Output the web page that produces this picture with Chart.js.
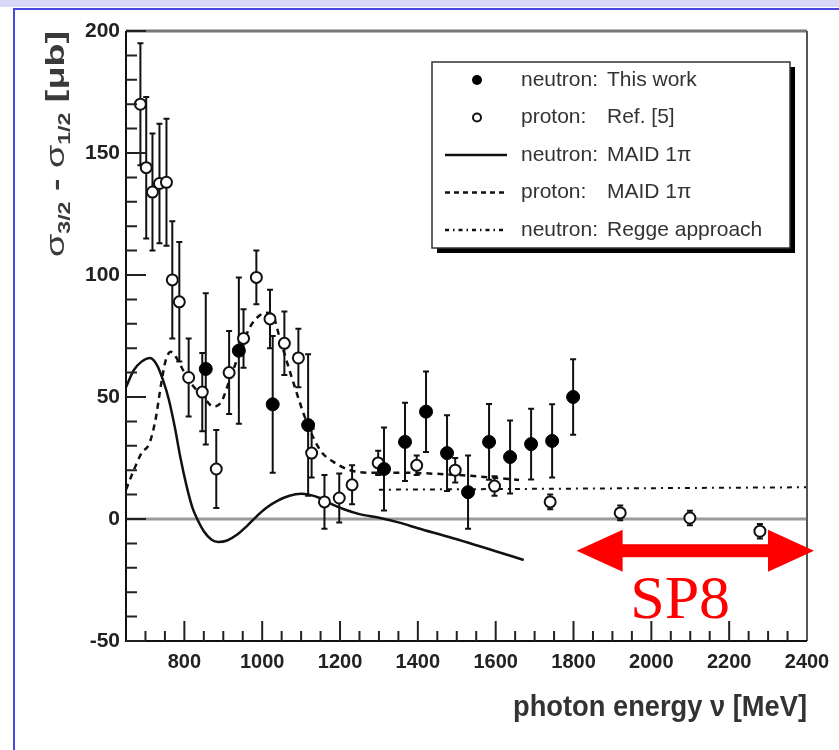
<!DOCTYPE html>
<html>
<head>
<meta charset="utf-8">
<script src="https://cdn.jsdelivr.net/npm/chart.js@4.4.1/dist/chart.umd.min.js"></script>
<style>
  html, body { margin: 0; padding: 0; background: #fff; }
  #wrap { position: relative; width: 839px; height: 750px; overflow: hidden; }
  #band { position: absolute; left: 0; top: 0; width: 839px; height: 7px; background: #d8d8f6; }
  #frame { position: absolute; left: 13px; top: 8px; width: 900px; height: 800px;
           border-left: 2px solid #4848e0; border-top: 2px solid #4848e0; }
  canvas { position: absolute; left: 0; top: 0; }
</style>
</head>
<body>
<div id="wrap">
  <div id="band"></div>
  <div id="frame"></div>
  <canvas id="chartOne" width="839" height="750"></canvas>
</div>
<script>
const xTicks = [800, 1000, 1200, 1400, 1600, 1800, 2000, 2200, 2400];
const yTicks = [-50, 0, 50, 100, 150, 200];

// neutron: this work (filled)
const neutronE   = [855, 940, 1027, 1118, 1313, 1367, 1421, 1475, 1529, 1583, 1637, 1691, 1745, 1799];
const neutronVal = [61.5, 69, 47, 38.5, 20.5, 31.6, 44, 27, 11, 31.6, 25.4, 30.7, 32, 50];
const neutronErr = [31, 30, 28, 29, 17, 16, 16.5, 15.5, 15, 15.5, 15, 14.5, 15, 15.5];

// proton: Ref. [5] (open)
const protonE   = [687, 702, 718, 736, 754, 769, 787, 811, 846, 882, 915, 952, 985, 1020, 1057, 1093, 1127, 1160, 1198, 1231, 1298, 1397, 1496, 1597, 1740, 1920, 2099, 2279];
const protonVal = [170, 144, 134, 137.5, 138, 98, 89, 58, 52, 20.5, 60, 74, 99, 82, 72, 66, 27, 7, 8.6, 14, 23, 22, 20, 13.5, 7, 2.5, 0.4, -5];
const protonErr = [25, 29, 24, 24.5, 26, 24, 24.5, 16, 16, 16, 17, 12, 11, 12, 13, 12, 10, 11, 10, 8, 5, 4, 5, 4, 3, 3, 3, 3];

// neutron: MAID 1pi (solid)
const maidNE  = [650, 670, 690, 712, 730, 745, 760, 775, 790, 805, 820, 833, 850, 870, 887, 910, 935, 960, 985, 1010, 1040, 1070, 1100, 1120, 1150, 1180, 1210, 1250, 1300, 1355, 1400, 1480, 1600, 1672];
const maidNVal = [54, 61, 64.5, 66, 63, 57, 49, 38, 25, 14, 5, 0, -5, -8.5, -9.4, -8.8, -6.5, -3, 1, 4.5, 7.5, 9.5, 10.3, 10, 8.5, 6, 4, 2, 0.5, -1.6, -3.8, -7.4, -13.2, -16.8];

// proton: MAID 1pi (dashed)
const maidPE  = [650, 670, 690, 710, 725, 740, 752, 765, 780, 800, 820, 849, 875, 895, 912, 930, 950, 970, 990, 1010, 1025, 1047, 1080, 1116, 1150, 1183, 1226, 1270, 1350, 1450, 1550, 1660];
const maidPVal = [12, 20, 27, 31, 40, 55, 65, 68.5, 66, 60, 55, 50, 46, 48, 55, 63, 72, 79, 83, 84.5, 84, 73, 56, 39, 28, 23.4, 20, 19, 19, 18.5, 17.5, 16];

// neutron: Regge approach (dash-dot)
const reggeE   = [1300, 2400];
const reggeVal = [12, 13];

const seriesTags  = ['neutron:', 'proton:', 'neutron:', 'proton:', 'neutron:'];
const seriesNotes = ['This work', 'Ref. [5]', 'MAID 1\u03c0', 'MAID 1\u03c0', 'Regge approach'];

const pts = (xs, ys) => xs.map((v, i) => ({ x: v, y: ys[i] }));
const sans = '"Liberation Sans", Arial, Helvetica, sans-serif';

// total natural width of a run of text pieces
function measureParts(ctx, parts) {
  let total = 0;
  parts.forEach(p => { ctx.font = p.f; p.w = ctx.measureText(p.t).width; total += p.w; });
  return total;
}

const decor = {
  id: 'decor',
  beforeDatasetsDraw(chart) {
    const { ctx, chartArea: a, scales: { x, y } } = chart;
    ctx.save();
    // zero line
    const y0 = y.getPixelForValue(0);
    ctx.strokeStyle = '#9a9a9a';
    ctx.lineWidth = 3;
    ctx.beginPath(); ctx.moveTo(a.left, y0); ctx.lineTo(a.right, y0); ctx.stroke();
    // error bars
    ctx.strokeStyle = '#111';
    ctx.lineWidth = 2;
    const bars = (es, vs, errs) => es.forEach((e, i) => {
      const px = x.getPixelForValue(e);
      const top = y.getPixelForValue(vs[i] + errs[i]);
      const bot = y.getPixelForValue(vs[i] - errs[i]);
      ctx.beginPath();
      ctx.moveTo(px, top); ctx.lineTo(px, bot);
      ctx.moveTo(px - 3, top); ctx.lineTo(px + 3, top);
      ctx.moveTo(px - 3, bot); ctx.lineTo(px + 3, bot);
      ctx.stroke();
    });
    bars(protonE, protonVal, protonErr);
    bars(neutronE, neutronVal, neutronErr);
    ctx.restore();
  },
  afterDraw(chart) {
    const { ctx, chartArea: a, scales: { x, y } } = chart;
    ctx.save();

    // frame
    ctx.lineWidth = 3; ctx.strokeStyle = '#777';
    ctx.beginPath(); ctx.moveTo(a.left, a.top); ctx.lineTo(a.right, a.top); ctx.stroke();
    ctx.lineWidth = 2; ctx.strokeStyle = '#555';
    ctx.beginPath(); ctx.moveTo(a.right, a.top); ctx.lineTo(a.right, a.bottom); ctx.stroke();
    ctx.strokeStyle = '#111';
    ctx.beginPath(); ctx.moveTo(a.left, a.top); ctx.lineTo(a.left, a.bottom); ctx.lineTo(a.right, a.bottom); ctx.stroke();

    // inner ticks
    ctx.lineWidth = 2; ctx.strokeStyle = '#222';
    ctx.beginPath();
    for (let v = -50; v <= 200; v += 10) {
      const py = y.getPixelForValue(v);
      const len = yTicks.includes(v) ? 20 : 11;
      ctx.moveTo(a.left, py); ctx.lineTo(a.left + len, py);
    }
    for (let v = 700; v < 2400; v += 50) {
      const px = x.getPixelForValue(v);
      const len = xTicks.includes(v) ? 20 : 10;
      ctx.moveTo(px, a.bottom); ctx.lineTo(px, a.bottom - len);
    }
    ctx.stroke();

    // y title with subscripts, stretched along its length
    const yParts = [
      { t: '\u03c3', f: '26px ' + sans, dy: 0 },
      { t: '3/2', f: 'bold 16px ' + sans, dy: 6 },
      { t: ' - ', f: 'bold 26px ' + sans, dy: 0 },
      { t: '\u03c3', f: '26px ' + sans, dy: 0 },
      { t: '1/2', f: 'bold 16px ' + sans, dy: 6 },
      { t: ' [\u03bcb]', f: 'bold 26px ' + sans, dy: 0 }
    ];
    const yTotal = measureParts(ctx, yParts);
    ctx.translate(64, 144);
    ctx.rotate(-Math.PI / 2);
    ctx.scale(226 / yTotal, 1);
    ctx.fillStyle = '#3a3a3a';
    ctx.textBaseline = 'alphabetic';
    let cx = -yTotal / 2;
    yParts.forEach(p => { ctx.font = p.f; ctx.fillText(p.t, cx, p.dy); cx += p.w; });
    ctx.setTransform(1, 0, 0, 1, 0, 0);

    // x title, right aligned to the axis end
    const xParts = [{ t: 'photon energy \u03bd [MeV]', f: 'bold 30px ' + sans }];
    const xTotal = measureParts(ctx, xParts);
    ctx.translate(a.right, 716);
    ctx.scale(294 / xTotal, 1);
    ctx.font = xParts[0].f;
    ctx.textAlign = 'right';
    ctx.fillStyle = '#333';
    ctx.fillText(xParts[0].t, 0, 0);
    ctx.setTransform(1, 0, 0, 1, 0, 0);
    ctx.textAlign = 'left';

    // legend
    const lx = 432, ly = 62, lw = 358, lh = 186;
    ctx.fillStyle = '#000';
    ctx.fillRect(lx + 5, ly + 5, lw, lh);
    ctx.fillStyle = '#fff';
    ctx.fillRect(lx, ly, lw, lh);
    ctx.strokeStyle = '#333'; ctx.lineWidth = 1.5;
    ctx.strokeRect(lx, ly, lw, lh);
    ctx.font = '21px ' + sans;
    ctx.textBaseline = 'middle';
    seriesTags.forEach((tag, i) => {
      const ry = ly + 18 + i * 37.5;
      ctx.fillStyle = '#333';
      ctx.fillText(tag, 521, ry);
      ctx.fillText(seriesNotes[i], 607, ry);
      ctx.strokeStyle = '#111';
      if (i === 0) {
        ctx.fillStyle = '#000';
        ctx.beginPath(); ctx.arc(477, ry, 5, 0, Math.PI * 2); ctx.fill();
      } else if (i === 1) {
        ctx.lineWidth = 2; ctx.fillStyle = '#fff';
        ctx.beginPath(); ctx.arc(477, ry, 4, 0, Math.PI * 2); ctx.fill(); ctx.stroke();
      } else {
        ctx.lineWidth = 2.5;
        ctx.setLineDash(i === 2 ? [] : i === 3 ? [5, 4] : [4, 4, 1.5, 4]);
        ctx.beginPath(); ctx.moveTo(445, ry); ctx.lineTo(507, ry); ctx.stroke();
        ctx.setLineDash([]);
      }
    });

    // SP8 arrow
    const ay = y.getPixelForValue(-13);
    const x1 = x.getPixelForValue(1808), x2 = x.getPixelForValue(2418);
    ctx.fillStyle = '#ff0000';
    ctx.fillRect(x1 + 40, ay - 6.5, x2 - x1 - 80, 13);
    ctx.beginPath(); ctx.moveTo(x1, ay); ctx.lineTo(x1 + 46, ay - 21); ctx.lineTo(x1 + 46, ay + 21); ctx.closePath(); ctx.fill();
    ctx.beginPath(); ctx.moveTo(x2, ay); ctx.lineTo(x2 - 46, ay - 21); ctx.lineTo(x2 - 46, ay + 21); ctx.closePath(); ctx.fill();
    ctx.font = '62px "Liberation Serif", "DejaVu Serif", serif';
    ctx.textAlign = 'center';
    ctx.textBaseline = 'alphabetic';
    ctx.fillText('SP8', x.getPixelForValue(2074), y.getPixelForValue(-40.6));
    ctx.restore();
  }
};

const chartOne = document.getElementById('chartOne');

new Chart(chartOne, {
  type: 'scatter',
  data: {
    datasets: [
      {
        label: seriesTags[0] + ' ' + seriesNotes[0],
        data: pts(neutronE, neutronVal),
        pointRadius: 6.5,
        backgroundColor: '#000',
        borderColor: '#000',
        borderWidth: 1,
        order: 0
      },
      {
        label: seriesTags[1] + ' ' + seriesNotes[1],
        data: pts(protonE, protonVal),
        pointRadius: 5.5,
        backgroundColor: '#fff',
        borderColor: '#111',
        borderWidth: 2,
        order: 1
      },
      {
        label: seriesTags[2] + ' ' + seriesNotes[2],
        data: pts(maidNE, maidNVal),
        showLine: true,
        pointRadius: 0,
        borderColor: '#111',
        borderWidth: 2.5,
        cubicInterpolationMode: 'monotone',
        order: 2
      },
      {
        label: seriesTags[3] + ' ' + seriesNotes[3],
        data: pts(maidPE, maidPVal),
        showLine: true,
        pointRadius: 0,
        borderColor: '#111',
        borderWidth: 2.5,
        borderDash: [6, 5],
        cubicInterpolationMode: 'monotone',
        order: 3
      },
      {
        label: seriesTags[4] + ' ' + seriesNotes[4],
        data: pts(reggeE, reggeVal),
        showLine: true,
        pointRadius: 0,
        borderColor: '#111',
        borderWidth: 2,
        borderDash: [5, 5, 2, 5],
        order: 4
      }
    ]
  },
  options: {
    responsive: false,
    animation: false,
    events: [],
    layout: { padding: { left: 0, top: 31, right: 32, bottom: 20 } },
    plugins: {
      legend: { display: false },
      tooltip: { enabled: false }
    },
    scales: {
      x: {
        type: 'linear',
        min: 650,
        max: 2400,
        afterBuildTicks: s => { s.ticks = xTicks.map(v => ({ value: v })); },
        afterFit: s => { s.height = 89; },
        grid: { display: false, drawTicks: false },
        border: { display: false },
        ticks: {
          autoSkip: false,
          maxRotation: 0,
          padding: 9,
          color: '#222',
          font: { family: sans, size: 20, weight: 'bold' },
          callback: v => String(v)
        }
      },
      y: {
        min: -50,
        max: 200,
        afterBuildTicks: s => { s.ticks = yTicks.map(v => ({ value: v })); },
        afterFit: s => { s.width = 126; },
        grid: { display: false, drawTicks: false },
        border: { display: false },
        ticks: {
          padding: 6,
          color: '#222',
          font: { family: sans, size: 21, weight: 'bold' },
          callback: v => String(v)
        }
      }
    }
  },
  plugins: [decor]
});
</script>
</body>
</html>
